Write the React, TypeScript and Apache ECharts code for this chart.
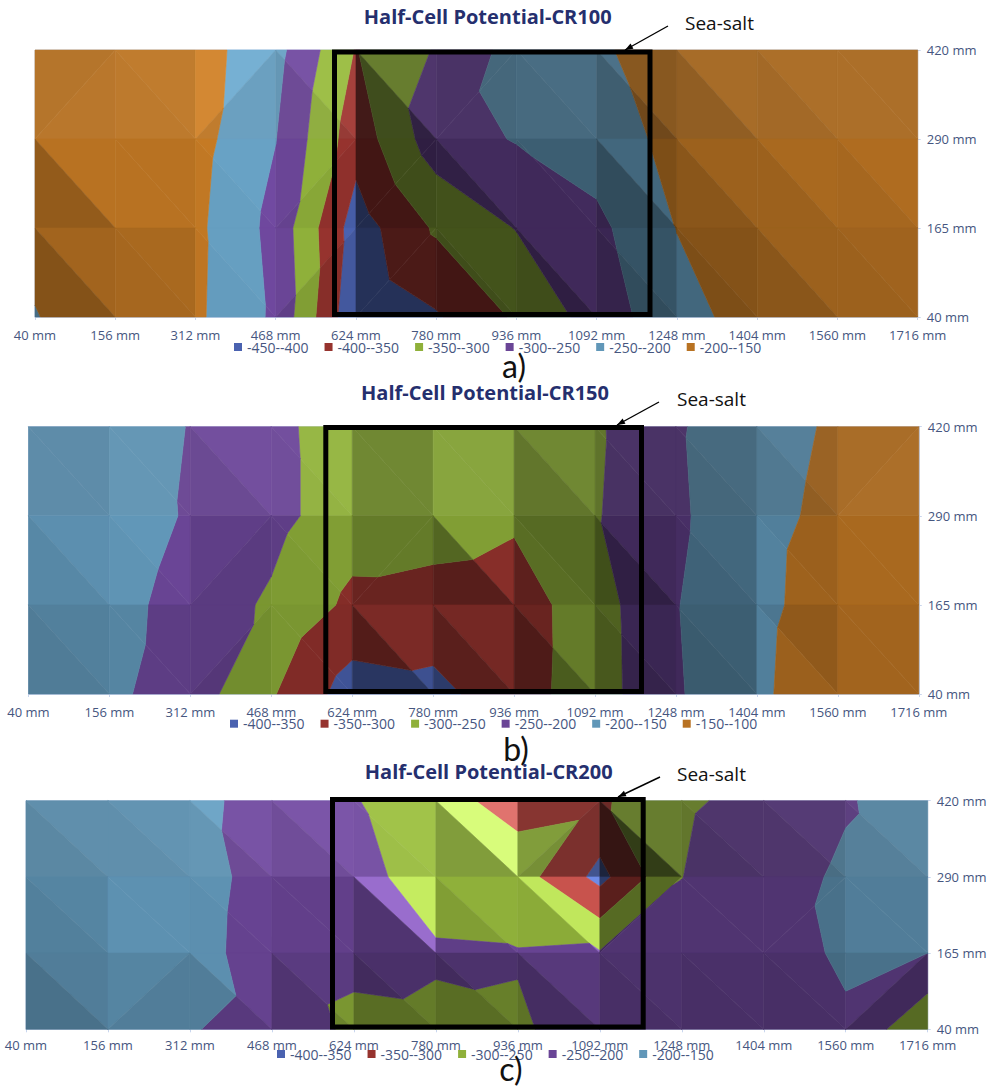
import React, { useEffect, useRef } from "react";
import * as echarts from "echarts";

const xLabels = ["40 mm", "156 mm", "312 mm", "468 mm", "624 mm", "780 mm", "936 mm", "1092 mm", "1248 mm", "1404 mm", "1560 mm", "1716 mm"];
const yLabels = ["40 mm", "165 mm", "290 mm", "420 mm"];

// Half-cell potential, CR100 (rows from 420 mm down to 40 mm)
const a420 = [-170, -165, -178, -234, -353, -296, -231, -210, -165, -165, -163, -162];
const a290 = [-172, -175, -182, -249, -379, -272, -247, -225, -186, -172, -168, -165];
const a165 = [-187, -178, -189, -266, -425, -343, -298, -262, -199, -176, -170, -165];
const a40 = [-202, -172, -191, -259, -441, -405, -343, -279, -215, -183, -178, -175];
const aBands = ["-450--400", "-400--350", "-350--300", "-300--250", "-250--200", "-200--150"];

// CR150
const b420 = [-165, -170, -202, -235, -280, -272, -265, -257, -205, -170, -143, -130];
const b290 = [-165, -167, -206, -235, -277, -276, -292, -254, -208, -165, -137, -130];
const b165 = [-165, -180, -222, -257, -311, -320, -325, -272, -202, -163, -125, -120];
const b40 = [-160, -190, -225, -295, -374, -364, -323, -273, -205, -160, -112, -112];
const bBands = ["-400--350", "-350--300", "-300--250", "-250--200", "-200--150", "-150--100"];

// CR200
const c420 = [-175, -178, -185, -221, -247, -285, -316, -308, -255, -240, -205, -170];
const c290 = [-178, -172, -175, -224, -240, -264, -277, -365, -250.5, -225, -191, -175];
const c165 = [-178, -165, -177, -230, -240, -246.5, -248, -246, -235, -215, -195, -200];
const c40 = [-170, -172, -197, -218, -259.6, -256.6, -253.8, -236, -232, -225, -205, -295];
const cBands = ["-400--350", "-350--300", "-300--250", "-250--200", "-200--150"];

// which way each grid cell is split: "n" = \ , "p" = / (rows from the top)
const aSplit = ["pnpnnpnnnnn", "nnnppnnnnnn", "nnnppnnnnnn"];
const bSplit = ["nnnnnnnnnnp", "nnpnpnnnnnn", "nnpnnnnnnnn"];
const cSplit = ["nnnnnnpnnnn", "nnnnnnnpnpn", "npnnnnnnnnp"];

// brightness of the two facets of each cell, as the surface's lighting shows them
const aLight = [
  [1.0, 1.02, 1.06, 1.04, 1.16, 1.06, 1.1, 1.0, 0.72, 0.44, 0.68, 0.68, 0.72, 0.7, 0.75, 0.62, 0.92, 0.8, 0.95, 0.9, 0.95, 0.95],
  [1.0, 0.8, 1.0, 1.0, 1.07, 1.05, 1.0, 0.95, 0.44, 0.44, 0.62, 0.46, 0.62, 0.6, 0.68, 0.5, 0.85, 0.75, 0.92, 0.85, 0.95, 0.9],
  [0.88, 0.72, 0.92, 0.9, 1.05, 1.03, 1.0, 0.9, 0.5, 0.5, 0.47, 0.44, 0.6, 0.44, 0.55, 0.5, 0.72, 0.68, 0.85, 0.75, 0.87, 0.85],
];
const bLight = [
  [0.93, 0.93, 1, 1, 1.05, 0.98, 1.05, 1.03, 0.78, 0.78, 0.95, 0.95, 0.78, 0.68, 0.68, 0.66, 0.7, 0.68, 0.85, 0.8, 0.93, 0.95],
  [0.95, 0.9, 1, 0.98, 0.9, 0.85, 0.9, 0.88, 0.7, 0.7, 0.9, 0.58, 0.6, 0.62, 0.6, 0.45, 0.68, 0.65, 0.84, 0.86, 0.92, 0.92],
  [0.85, 0.82, 0.88, 0.88, 0.85, 0.8, 0.85, 0.85, 0.82, 0.55, 0.78, 0.6, 0.7, 0.52, 0.55, 0.5, 0.62, 0.6, 0.78, 0.84, 0.88, 0.88],
];
const cLight = [
  [0.95, 0.9, 0.98, 0.95, 1.1, 1.0, 1.12, 1.02, 1.12, 1.1, 1.45, 0.9, 0.9, 0.82, 0.72, 0.35, 0.72, 0.68, 0.78, 0.72, 0.9, 0.85],
  [0.88, 0.85, 0.96, 0.96, 0.97, 0.95, 0.92, 0.92, 1.33, 0.75, 1, 0.9, 1.3, 0.97, 0.6, 0.75, 0.75, 0.75, 0.75, 0.75, 0.83, 0.83],
  [0.83, 0.75, 0.88, 0.83, 0.95, 0.83, 0.85, 0.75, 0.7, 0.62, 0.72, 0.62, 0.82, 0.65, 0.72, 0.68, 0.7, 0.68, 0.7, 0.68, 0.75, 0.6],
];

const bandColors = ["#4a62b0", "#96332e", "#8fb03a", "#6a4596", "#6197b8", "#b87222"];

type Conf = {
  top: number; height: number;
  grid: [number, number, number, number];
  rows: number[][]; split: string[]; light: number[][]; bands: string[]; colors: string[];
  title: string; titleX: number; titleY: number;
  box: [number, number, number, number];
  arrow: [number, number, number, number];
  seaX: number; seaY: number;
  legendX: number; legendY: number;
  tag: string; tagX: number; tagY: number;
  xMargin: number;
};

const confs: Conf[] = [
  { top: 0, height: 395, grid: [35, 50, 882.7, 267], rows: [a40, a165, a290, a420], split: aSplit, light: aLight, bands: aBands, colors: bandColors,
    title: "Half-Cell Potential-CR100", titleX: 487.7, titleY: 16, box: [334.5, 52, 650, 314.5], arrow: [668, 26, 625, 50], seaX: 685, seaY: 23,
    legendX: 234, legendY: 349, tag: "a)", tagX: 514, tagY: 365, xMargin: 11 },
  { top: 380, height: 395, grid: [28.5, 426.7, 890.3, 267.3], rows: [b40, b165, b290, b420], split: bSplit, light: bLight, bands: bBands, colors: bandColors,
    title: "Half-Cell Potential-CR150", titleX: 485, titleY: 392.7, box: [325.8, 427.5, 641.5, 691.5], arrow: [659, 402, 617, 425], seaX: 677, seaY: 399,
    legendX: 230, legendY: 725.7, tag: "b)", tagX: 516, tagY: 748, xMargin: 11 },
  { top: 750, height: 338, grid: [26, 800.7, 901.7, 228.6], rows: [c40, c165, c290, c420], split: cSplit, light: cLight, bands: cBands, colors: bandColors.slice(0, 5),
    title: "Half-Cell Potential-CR200", titleX: 488.7, titleY: 771, box: [332.5, 799.5, 643.2, 1027], arrow: [660, 777, 618, 797], seaX: 677, seaY: 774,
    legendX: 277, legendY: 1056, tag: "c)", tagX: 511, tagY: 1068, xMargin: 9 },
];

type V = { p: number[]; v: number };

function clip(poly: V[], limit: number, keepAbove: boolean): V[] {
  const out: V[] = [];
  for (let i = 0; i < poly.length; i++) {
    const A = poly[i];
    const B = poly[(i + 1) % poly.length];
    const inA = keepAbove ? A.v >= limit : A.v <= limit;
    const inB = keepAbove ? B.v >= limit : B.v <= limit;
    if (inA) out.push(A);
    if (inA !== inB) {
      const t = (limit - A.v) / (B.v - A.v);
      out.push({ p: [A.p[0] + (B.p[0] - A.p[0]) * t, A.p[1] + (B.p[1] - A.p[1]) * t], v: limit });
    }
  }
  return out;
}

function shadeColor(hex: string, f: number, row: number): string {
  const n = parseInt(hex.slice(1), 16);
  const rgb = [(n >> 16) & 255, (n >> 8) & 255, n & 255];
  const white = f > 1.15 ? (f - 1.15) * 0.6 : 0;
  const grey = row === 0 ? 0.08 : 0;
  const c = rgb.map((x) => {
    let y = Math.min(255, x * f);
    y = y + (255 - y) * white;
    y = y + (150 * f - y) * grey;
    return Math.max(0, Math.min(255, Math.round(y)));
  });
  return `rgb(${c[0]},${c[1]},${c[2]})`;
}

function buildOption(cf: Conf) {
  const [gl, gt, gw, gh] = cf.grid;
  const tris: { verts: number[][]; row: number; f: number }[] = [];
  for (let r = 0; r < 3; r++) {
    const topRow = 3 - r;
    const botRow = topRow - 1;
    for (let c = 0; c < 11; c++) {
      const tl = [c, topRow], tr = [c + 1, topRow], bl = [c, botRow], br = [c + 1, botRow];
      const faces = cf.split[r][c] === "p" ? [[tl, tr, bl], [tr, bl, br]] : [[tl, tr, br], [tl, bl, br]];
      faces.forEach((verts, k) => tris.push({ verts, row: r, f: cf.light[r][c * 2 + k] }));
    }
  }
  const series = cf.bands.map((name, bi) => {
    const hiVal = parseFloat(name.slice(name.indexOf("--") + 1));
    const loVal = parseFloat(name.slice(0, name.indexOf("--")));
    return {
      type: "custom",
      name,
      silent: true,
      coordinateSystem: "cartesian2d",
      itemStyle: { color: cf.colors[bi] },
      encode: { x: 0, y: 1 },
      data: tris.map((t) => [t.verts[0][0], t.verts[0][1]]),
      renderItem: (params: any, api: any) => {
        const t = tris[params.dataIndex];
        let poly: V[] = t.verts.map((q) => ({ p: api.coord([q[0], q[1]]), v: cf.rows[q[1]][q[0]] }));
        poly = clip(poly, loVal, true);
        if (poly.length >= 3) poly = clip(poly, hiVal, false);
        if (poly.length < 3) return null;
        const fill = shadeColor(cf.colors[bi], t.f, t.row);
        return {
          type: "polygon",
          shape: { points: poly.map((q) => q.p) },
          style: { fill, stroke: fill, lineWidth: 0.6 },
        };
      },
    };
  });
  const tb = cf.top;
  const [x0, y0, x1, y1] = cf.box;
  const [ax0, ay0, ax1, ay1] = cf.arrow;
  const ang = Math.atan2(ay1 - ay0, ax1 - ax0);
  const hl = 8, hw = 3;
  const head = [
    [ax1, ay1 - tb],
    [ax1 - hl * Math.cos(ang) + hw * Math.sin(ang), ay1 - tb - hl * Math.sin(ang) - hw * Math.cos(ang)],
    [ax1 - hl * Math.cos(ang) - hw * Math.sin(ang), ay1 - tb - hl * Math.sin(ang) + hw * Math.cos(ang)],
  ];
  const axisLine = { show: true, lineStyle: { color: "#c9d6ee", width: 1 } };
  const axisLabelStyle = { color: "#46567f", fontFamily: "Open Sans", fontSize: 13 };
  return {
    animation: false,
    backgroundColor: "transparent",
    grid: { left: gl, top: gt - tb, width: gw, height: gh, show: true, borderColor: "#c9d6ee", borderWidth: 1, backgroundColor: "transparent", containLabel: false },
    xAxis: {
      type: "category", data: xLabels, boundaryGap: false, position: "bottom",
      axisLine, axisTick: { show: true, length: 3, alignWithLabel: true, lineStyle: { color: "#c9d6ee" } },
      axisLabel: { ...axisLabelStyle, margin: cf.xMargin, interval: 0, hideOverlap: false },
      splitLine: { show: false },
    },
    yAxis: {
      type: "category", data: yLabels, boundaryGap: false, position: "right",
      axisLine, axisTick: { show: true, length: 3, alignWithLabel: true, lineStyle: { color: "#c9d6ee" } },
      axisLabel: { ...axisLabelStyle, margin: 9, interval: 0 },
      splitLine: { show: false },
    },
    legend: {
      left: cf.legendX, top: cf.legendY - tb - 9, itemWidth: 8, itemHeight: 8, itemGap: 16, icon: "rect",
      orient: "horizontal", padding: 0, data: cf.bands,
      textStyle: { color: "#46567f", fontFamily: "Open Sans", fontSize: 14 },
      selectedMode: false,
    },
    series,
    graphic: [
      { type: "text", z: 100, x: cf.titleX, y: cf.titleY - tb, style: { text: cf.title, fill: "#252f6e", font: "bold 20px 'Open Sans'", textAlign: "center", textVerticalAlign: "middle" } },
      { type: "rect", z: 100, shape: { x: x0, y: y0 - tb, width: x1 - x0, height: y1 - y0 }, style: { fill: "none", stroke: "#000", lineWidth: 5 } },
      { type: "line", z: 100, shape: { x1: ax0, y1: ay0 - tb, x2: ax1, y2: ay1 - tb }, style: { stroke: "#000", lineWidth: 1.4 } },
      { type: "polygon", z: 100, shape: { points: head }, style: { fill: "#000" } },
      { type: "text", z: 100, x: cf.seaX, y: cf.seaY - tb, style: { text: "Sea-salt", fill: "#111", font: "19px 'Open Sans'", textAlign: "left", textVerticalAlign: "middle" } },
      { type: "text", z: 100, x: cf.tagX, y: cf.tagY - tb, style: { text: cf.tag, fill: "#111", font: "32px Lato", textAlign: "center", textVerticalAlign: "middle" } },
    ],
  };
}

function Panel({ cf }: { cf: Conf }) {
  const ref = useRef<HTMLDivElement>(null);
  useEffect(() => {
    const chart = echarts.init(ref.current as HTMLDivElement, undefined, { renderer: "svg" });
    chart.setOption(buildOption(cf) as any);
    return () => chart.dispose();
  }, [cf]);
  return <div ref={ref} style={{ position: "absolute", left: 0, top: cf.top, width: 995, height: cf.height }} />;
}

export default function App() {
  return (
    <div style={{ position: "absolute", left: 0, top: 0, width: 995, height: 1088, background: "#fff", overflow: "hidden" }}>
      {confs.map((cf) => (
        <Panel key={cf.tag} cf={cf} />
      ))}
    </div>
  );
}
